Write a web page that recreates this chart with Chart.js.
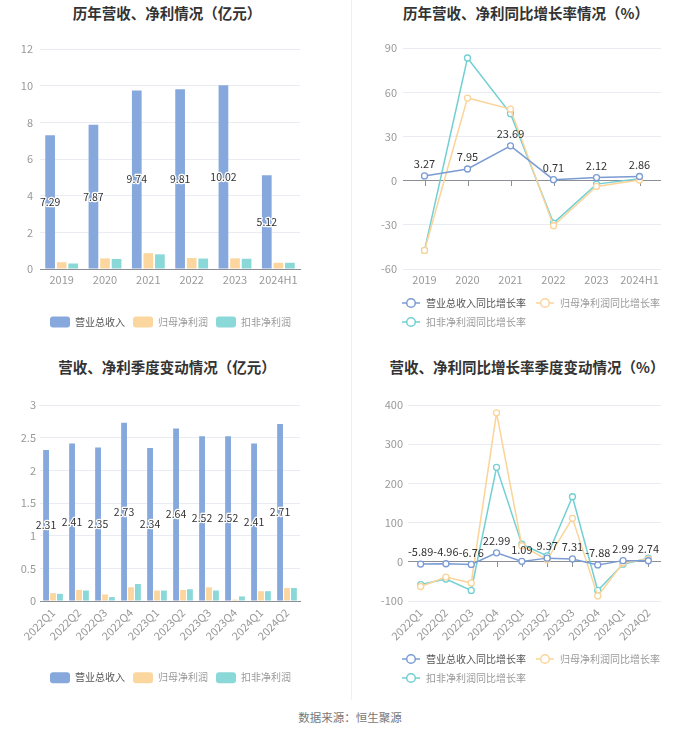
<!DOCTYPE html>
<html>
<head>
<meta charset="utf-8">
<script src="https://cdn.jsdelivr.net/npm/chart.js@4.4.1/dist/chart.umd.min.js"></script>
<style>
  body { margin: 0; background: #fff; width: 700px; height: 734px; position: relative; overflow: hidden; font-family: "Noto Sans CJK SC", sans-serif; }
  canvas { position: absolute; }
  .ttl { position: absolute; transform: translate(-50%, -50%); font-weight: bold; font-size: 14.5px; color: #333; white-space: nowrap; }
  .src { position: absolute; left: 350px; top: 717px; transform: translate(-50%, -50%); font-size: 11.5px; color: #777; white-space: nowrap; }
  .vline { position: absolute; left: 351px; top: 0; width: 1px; height: 700px; background: #f0f0f0; }
</style>
</head>
<body>
<div class="vline"></div>
<div class="ttl" style="left:167px;top:12px">历年营收、净利情况（亿元）</div>
<div class="ttl" style="left:526px;top:12px">历年营收、净利同比增长率情况（%）</div>
<div class="ttl" style="left:167px;top:366px">营收、净利季度变动情况（亿元）</div>
<div class="ttl" style="left:527px;top:366px">营收、净利同比增长率季度变动情况（%）</div>
<canvas id="c1" width="350" height="343" style="left:0;top:0"></canvas>
<canvas id="c2" width="350" height="343" style="left:350px;top:0"></canvas>
<canvas id="c3" width="350" height="355" style="left:0;top:345px"></canvas>
<canvas id="c4" width="350" height="355" style="left:350px;top:345px"></canvas>
<div class="src">数据来源：恒生聚源</div>
<script>
// 数据
const years = ['2019', '2020', '2021', '2022', '2023', '2024H1'];
const yearRevenue = [7.29, 7.87, 9.74, 9.81, 10.02, 5.12];
const yearNetProfit = [0.37, 0.58, 0.86, 0.60, 0.58, 0.34];
const yearDeducted = [0.30, 0.55, 0.80, 0.57, 0.56, 0.34];

const yearRevenueGrowth = [3.27, 7.95, 23.69, 0.71, 2.12, 2.86];
const yearNetProfitGrowth = [-47.4, 56.2, 48.7, -30.6, -3.9, 0.5];
const yearDeductedGrowth = [-47.4, 83.4, 45.6, -28.8, -2.3, 1.4];

const quarters = ['2022Q1', '2022Q2', '2022Q3', '2022Q4', '2023Q1', '2023Q2', '2023Q3', '2023Q4', '2024Q1', '2024Q2'];
const quarterRevenue = [2.31, 2.41, 2.35, 2.73, 2.34, 2.64, 2.52, 2.52, 2.41, 2.71];
const quarterNetProfit = [0.12, 0.17, 0.10, 0.21, 0.16, 0.17, 0.21, 0.02, 0.15, 0.20];
const quarterDeducted = [0.11, 0.16, 0.06, 0.26, 0.16, 0.18, 0.16, 0.07, 0.15, 0.20];

const quarterRevenueGrowth = [-5.89, -4.96, -6.76, 22.99, 1.09, 9.37, 7.31, -7.88, 2.99, 2.74];
const quarterNetProfitGrowth = [-63, -39, -54, 380, 41, 5, 111, -87, -3, 7];
const quarterDeductedGrowth = [-58, -44, -73, 241, 45, 15, 166, -73, -6, 9];

const barNames = ['营业总收入', '归母净利润', '扣非净利润'];
const lineNames = ['营业总收入同比增长率', '归母净利润同比增长率', '扣非净利润同比增长率'];

const barColors = ['#87a8dc', '#fcd69f', '#8ad8d8'];
const lineColors = ['#7b9bd3', '#fbd49a', '#72cfd3'];
const legendText = ['#555', '#9a9a9a', '#9a9a9a'];
const gridColor = '#e9ecf2';
const axisColor = '#8c8f96';
const tickColor = '#999';

Chart.defaults.font.family = '"Noto Sans CJK SC", sans-serif';
Chart.defaults.animation = false;

// 柱子中间的数值
const barValueLabels = {
    id: 'barValueLabels',
    afterDatasetsDraw(chart) {
        const ctx = chart.ctx;
        const meta = chart.getDatasetMeta(0);
        const values = chart.data.datasets[0].data;
        ctx.save();
        ctx.font = '10.5px "Noto Sans CJK SC"';
        ctx.textAlign = 'center';
        ctx.textBaseline = 'middle';
        ctx.lineJoin = 'round';
        ctx.lineWidth = 2.5;
        ctx.strokeStyle = '#fff';
        ctx.fillStyle = '#333';
        meta.data.forEach((bar, i) => {
            const y = (bar.y + bar.base) / 2;
            ctx.strokeText(values[i].toFixed(2), bar.x, y);
            ctx.fillText(values[i].toFixed(2), bar.x, y);
        });
        ctx.restore();
    }
};

// 折线上方的数值 + 零轴上的刻度
const lineValueLabels = {
    id: 'lineValueLabels',
    beforeDatasetsDraw(chart) {
        const ctx = chart.ctx;
        const x = chart.scales.x;
        const y0 = Math.round(chart.scales.y.getPixelForValue(0));
        ctx.save();
        ctx.strokeStyle = axisColor;
        ctx.lineWidth = 1;
        ctx.beginPath();
        chart.data.labels.forEach((l, i) => {
            const px = Math.round(x.getPixelForValue(i)) + 0.5;
            ctx.moveTo(px, y0);
            ctx.lineTo(px, y0 + 5);
        });
        ctx.stroke();
        ctx.restore();
    },
    afterDatasetsDraw(chart) {
        const ctx = chart.ctx;
        const meta = chart.getDatasetMeta(0);
        const values = chart.data.datasets[0].data;
        ctx.save();
        ctx.font = '11px "Noto Sans CJK SC"';
        ctx.textAlign = 'center';
        ctx.textBaseline = 'middle';
        ctx.fillStyle = '#333';
        meta.data.forEach((pt, i) => {
            ctx.fillText(values[i].toFixed(2), pt.x, pt.y - 12);
        });
        ctx.restore();
    }
};

// 图例位置单独摆放
const legendPlace = {
    id: 'legendPlace',
    afterLayout(chart, args, opts) {
        chart.legend.left = opts.left;
        chart.legend.right = opts.right;
    }
};

const makeIcon = (color) => {
    const c = document.createElement('canvas');
    c.width = 18;
    c.height = 12;
    const g = c.getContext('2d');
    g.strokeStyle = color;
    g.lineWidth = 1.5;
    g.beginPath();
    g.moveTo(0, 6);
    g.lineTo(18, 6);
    g.stroke();
    g.beginPath();
    g.arc(9, 6, 4.3, 0, Math.PI * 2);
    g.fillStyle = '#fff';
    g.fill();
    g.stroke();
    return c;
};

const makeBarChart = (id, labels, series, yMax, yStep, pad, xHeight, yPad, rotation, xPad) => {
    new Chart(document.getElementById(id), {
        type: 'bar',
        data: {
            labels: labels,
            datasets: series.map((s, i) => ({
                label: barNames[i],
                data: s,
                backgroundColor: barColors[i],
                categoryPercentage: 0.8,
                barPercentage: 0.84
            }))
        },
        options: {
            responsive: false,
            layout: { padding: pad },
            plugins: {
                title: { display: false },
                tooltip: { enabled: false },
                legendPlace: { left: 39, right: 302 },
                legend: {
                    position: 'bottom',
                    labels: {
                        boxWidth: 20,
                        boxHeight: 11,
                        padding: 8,
                        font: { size: 10 },
                        useBorderRadius: true,
                        borderRadius: 3,
                        generateLabels: (chart) => chart.data.datasets.map((d, i) => ({
                            text: d.label,
                            fillStyle: d.backgroundColor,
                            strokeStyle: d.backgroundColor,
                            lineWidth: 0,
                            borderRadius: 3,
                            fontColor: legendText[i],
                            hidden: false,
                            datasetIndex: i
                        }))
                    }
                }
            },
            scales: {
                x: {
                    grid: { display: false, drawTicks: false },
                    border: { display: true, color: axisColor },
                    ticks: {
                        color: tickColor,
                        font: { size: 11 },
                        padding: xPad,
                        autoSkip: false,
                        minRotation: rotation,
                        maxRotation: rotation
                    },
                    afterFit: (s) => { s.height = xHeight; }
                },
                y: {
                    min: 0,
                    max: yMax,
                    border: { display: false },
                    grid: { color: gridColor, drawTicks: false },
                    ticks: {
                        stepSize: yStep,
                        color: tickColor,
                        font: { size: 11 },
                        padding: yPad,
                        callback: (v) => String(Math.round(v * 10) / 10)
                    },
                    afterFit: (s) => { s.width = 40; }
                }
            }
        },
        plugins: [barValueLabels, legendPlace]
    });
};

const makeLineChart = (id, labels, series, yMin, yMax, yStep, pad, yWidth, yPad, xHeight, rotation, xPad) => {
    new Chart(document.getElementById(id), {
        type: 'line',
        data: {
            labels: labels,
            datasets: series.map((s, i) => ({
                label: lineNames[i],
                data: s,
                borderColor: lineColors[i],
                borderWidth: 1.5,
                pointRadius: 3,
                pointBorderWidth: 1.3,
                pointBackgroundColor: '#fff',
                pointBorderColor: lineColors[i],
                tension: 0,
                fill: false
            }))
        },
        options: {
            responsive: false,
            layout: { padding: pad },
            plugins: {
                title: { display: false },
                tooltip: { enabled: false },
                legendPlace: { left: 42, right: 350 },
                legend: {
                    position: 'bottom',
                    align: 'start',
                    labels: {
                        usePointStyle: true,
                        pointStyleWidth: 20,
                        padding: 9,
                        font: { size: 10 },
                        generateLabels: (chart) => chart.data.datasets.map((d, i) => ({
                            text: d.label,
                            pointStyle: makeIcon(lineColors[i]),
                            fillStyle: '#fff',
                            strokeStyle: lineColors[i],
                            lineWidth: 0,
                            fontColor: legendText[i],
                            hidden: false,
                            datasetIndex: i
                        }))
                    }
                }
            },
            scales: {
                x: {
                    offset: true,
                    grid: { display: false, drawTicks: false },
                    border: { display: false },
                    ticks: {
                        color: tickColor,
                        font: { size: 11 },
                        padding: xPad,
                        autoSkip: false,
                        minRotation: rotation,
                        maxRotation: rotation
                    },
                    afterFit: (s) => { s.height = xHeight; }
                },
                y: {
                    min: yMin,
                    max: yMax,
                    border: { display: false },
                    grid: {
                        drawTicks: false,
                        color: (c) => (c.tick && c.tick.value === 0 ? axisColor : gridColor)
                    },
                    ticks: { stepSize: yStep, color: tickColor, font: { size: 11 }, padding: yPad },
                    afterFit: (s) => { s.width = yWidth; }
                }
            }
        },
        plugins: [lineValueLabels, legendPlace]
    });
};

makeBarChart('c1', years, [yearRevenue, yearNetProfit, yearDeducted], 12, 2,
    { left: 0, right: 50, top: 49, bottom: 5.5 }, 39.5, 7, 0, 4);

makeLineChart('c2', years, [yearRevenueGrowth, yearNetProfitGrowth, yearDeductedGrowth], -60, 90, 30,
    { left: 0, right: 39, top: 48.3, bottom: 6 }, 53, 6, 20, 0, 4);

makeBarChart('c3', quarters, [quarterRevenue, quarterNetProfit, quarterDeducted], 3, 0.5,
    { left: 0, right: 50, top: 60, bottom: 6.8 }, 63.2, 4, 45, 5);

makeLineChart('c4', quarters, [quarterRevenueGrowth, quarterNetProfitGrowth, quarterDeductedGrowth], -100, 400, 100,
    { left: 0, right: 39, top: 60, bottom: 7 }, 58, 5, 44, 45, 5);
</script>
</body>
</html>
